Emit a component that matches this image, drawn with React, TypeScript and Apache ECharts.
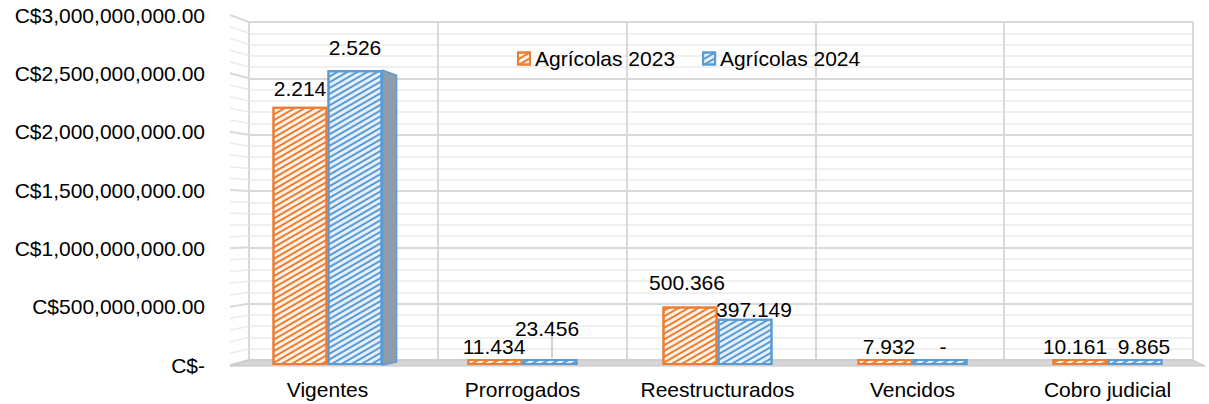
import React, { useEffect, useRef } from "react";
import * as echarts from "echarts";

const categories = ["Vigentes", "Prorrogados", "Reestructurados", "Vencidos", "Cobro judicial"];
const seriesNames = ["Agrícolas 2023", "Agrícolas 2024"];
const values2023 = [2214000000, 11434000, 500366000, 7932000, 10161000];
const values2024 = [2526000000, 23456000, 397149000, 0, 9865000];
const yMin = 0;
const yMax = 3000000000;
const yInterval = 500000000;
const yMinorStep = 100000000;

const FONT = "'Liberation Sans', Arial, sans-serif";
const W = 1209;
const H = 404;
const BAR_W = 55;
// wall (back) grid and bar (front) grid
const WALL = { left: 249, right: 16, top: 22, bottom: 44 };
const FRONT = { left: 230, right: 4, top: 15, bottom: 39 };

// per-category label placement tweaks [distance, offsetX]
const labelPos2023: [number, number][] = [[8, 0], [2, -1], [14, -3], [2, 4], [2, -5]];
const labelPos2024: [number, number][] = [[12, 0], [20, -3], [-1, 9], [2, 3], [2, 9]];

const fmtLabel = (v: number) =>
  v === 0 ? "-" : v >= 1e9 ? (v / 1e9).toFixed(3) : (v / 1e6).toFixed(3);
const fmtAxis = (v: number) =>
  v === 0 ? "C$-" : "C$" + v.toLocaleString("en-US", { minimumFractionDigits: 2, maximumFractionDigits: 2 });

export default function App() {
  const ref = useRef<HTMLDivElement>(null);
  useEffect(() => {
    if (!ref.current) return;
    const chart = echarts.init(ref.current, undefined, { renderer: "svg" });
    const mkSeries = (
      name: string,
      data: number[],
      pos: [number, number][],
      color: string,
      bg: string
    ) => ({
      name,
      type: "bar",
      xAxisIndex: 1,
      yAxisIndex: 1,
      data: data.map((v, i) => ({
        value: v,
        label: { distance: pos[i][0], offset: [pos[i][1], 0] },
      })),
      barWidth: BAR_W,
      barGap: "0%",
      barMinHeight: 6,
      z: 3,
      itemStyle: {
        color: bg,
        borderColor: color,
        borderWidth: 2,
        decal: {
          symbol: "rect",
          symbolSize: 1,
          color,
          dashArrayX: [1, 0],
          dashArrayY: [2, 3],
          rotation: -Math.PI / 6,
        },
      },
      label: {
        show: true,
        position: "top",
        formatter: (p: any) => fmtLabel(p.value),
        fontSize: 21,
        fontFamily: FONT,
        color: "#000",
      },
    });
    const sideSeries = {
      type: "custom",
      xAxisIndex: 1,
      yAxisIndex: 1,
      z: 2,
      silent: true,
      data: values2024.map((v, i) => [i, v]),
      renderItem: (params: any, api: any) => {
        const top = api.coord([api.value(0), api.value(1)]);
        const base = api.coord([api.value(0), 0]);
        const xr = top[0] + BAR_W;
        const cs = params.coordSys;
        const xv = cs.x + cs.width / 2;
        const depth = (xv - xr) * 0.042;
        if (depth <= 1 || base[1] - top[1] < 20) return null;
        const dyTop = (190 - top[1]) * 0.042 * (depth / 14);
        return {
          type: "polygon",
          shape: {
            points: [
              [xr, top[1]],
              [xr + depth, top[1] + Math.abs(dyTop)],
              [xr + depth, base[1] - 3],
              [xr, base[1]],
            ],
          },
          style: { fill: "#8f9caa", stroke: "#5B9BD5", lineWidth: 1.5 },
        };
      },
    };
    chart.setOption({
      animation: false,
      aria: { enabled: true, decal: { show: true } },
      textStyle: { fontFamily: FONT },
      legend: {
        left: 517,
        top: 48,
        padding: 0,
        icon: "rect",
        itemWidth: 12,
        itemHeight: 12,
        itemGap: 27,
        textStyle: { fontSize: 21, color: "#000", fontFamily: FONT },
        data: seriesNames,
      },
      grid: [
        { ...WALL, containLabel: false },
        { ...FRONT, containLabel: false },
      ],
      xAxis: [
        {
          gridIndex: 0,
          type: "category",
          data: categories,
          axisLabel: { show: false },
          axisTick: { show: false },
          axisLine: { show: false },
          splitLine: { show: true, interval: 0, lineStyle: { color: "#d9d9d9", width: 2 } },
        },
        {
          gridIndex: 1,
          type: "category",
          data: categories,
          axisLabel: { interval: 0, fontSize: 21, color: "#000", margin: 14, fontFamily: FONT },
          axisTick: { show: false },
          axisLine: { show: false },
          splitLine: { show: false },
        },
      ],
      yAxis: [
        {
          gridIndex: 0,
          type: "value",
          min: yMin,
          max: yMax,
          interval: yInterval,
          axisLabel: { show: false },
          axisTick: { show: false },
          axisLine: { show: false },
          splitLine: { show: true, lineStyle: { color: "#d9d9d9", width: 2 } },
          minorTick: { show: false, splitNumber: yInterval / yMinorStep },
          minorSplitLine: { show: true, lineStyle: { color: "#ebebeb", width: 1.5 } },
        },
        {
          gridIndex: 1,
          type: "value",
          min: yMin,
          max: yMax,
          interval: yInterval,
          axisLabel: { fontSize: 21, color: "#000", margin: 25, formatter: fmtAxis, fontFamily: FONT },
          axisTick: { show: false },
          axisLine: { show: false },
          splitLine: { show: false },
        },
      ],
      series: [
        mkSeries(seriesNames[0], values2023, labelPos2023, "#ED7D31", "#fef4ec"),
        mkSeries(seriesNames[1], values2024, labelPos2024, "#5B9BD5", "#e6f0fa"),
        sideSeries,
      ],
    });

    // side wall lines, floor and a leader line, placed through the axes' own scales
    const graphics: any[] = [];
    for (let v = yMin; v <= yMax; v += yMinorStep) {
      const yf = chart.convertToPixel({ yAxisIndex: 1 }, v) as number;
      const yb = chart.convertToPixel({ yAxisIndex: 0 }, v) as number;
      const major = v % yInterval === 0;
      graphics.push({
        type: "line",
        z: 0,
        shape: { x1: FRONT.left, y1: yf, x2: WALL.left, y2: yb },
        style: { stroke: major ? "#d9d9d9" : "#ebebeb", lineWidth: major ? 2 : 1.5 },
      });
    }
    const yf0 = chart.convertToPixel({ yAxisIndex: 1 }, 0) as number;
    const yb0 = chart.convertToPixel({ yAxisIndex: 0 }, 0) as number;
    graphics.push({
      type: "polygon",
      z: 1,
      shape: {
        points: [
          [WALL.left, yb0],
          [W - WALL.right, yb0],
          [W - FRONT.right, yf0 + 1],
          [FRONT.left, yf0 + 1],
        ],
      },
      style: { fill: "#d6d6d6", stroke: "#c4c4c4", lineWidth: 1 },
    });
    // leader line for the displaced Prorrogados 2024 label
    const pt = chart.convertToPixel({ xAxisIndex: 1, yAxisIndex: 1 }, [1, values2024[1]]) as number[];
    graphics.push({
      type: "line",
      z: 4,
      shape: { x1: pt[0] + BAR_W / 2 + 2, y1: pt[1] - 26, x2: pt[0] + BAR_W / 2 + 2, y2: pt[1] - 4 },
      style: { stroke: "#a6a6a6", lineWidth: 1 },
    });
    chart.setOption({ graphic: graphics });

    return () => chart.dispose();
  }, []);
  return (
    <div
      ref={ref}
      style={{ position: "fixed", left: 0, top: 0, width: W, height: H, background: "#fff" }}
    />
  );
}
